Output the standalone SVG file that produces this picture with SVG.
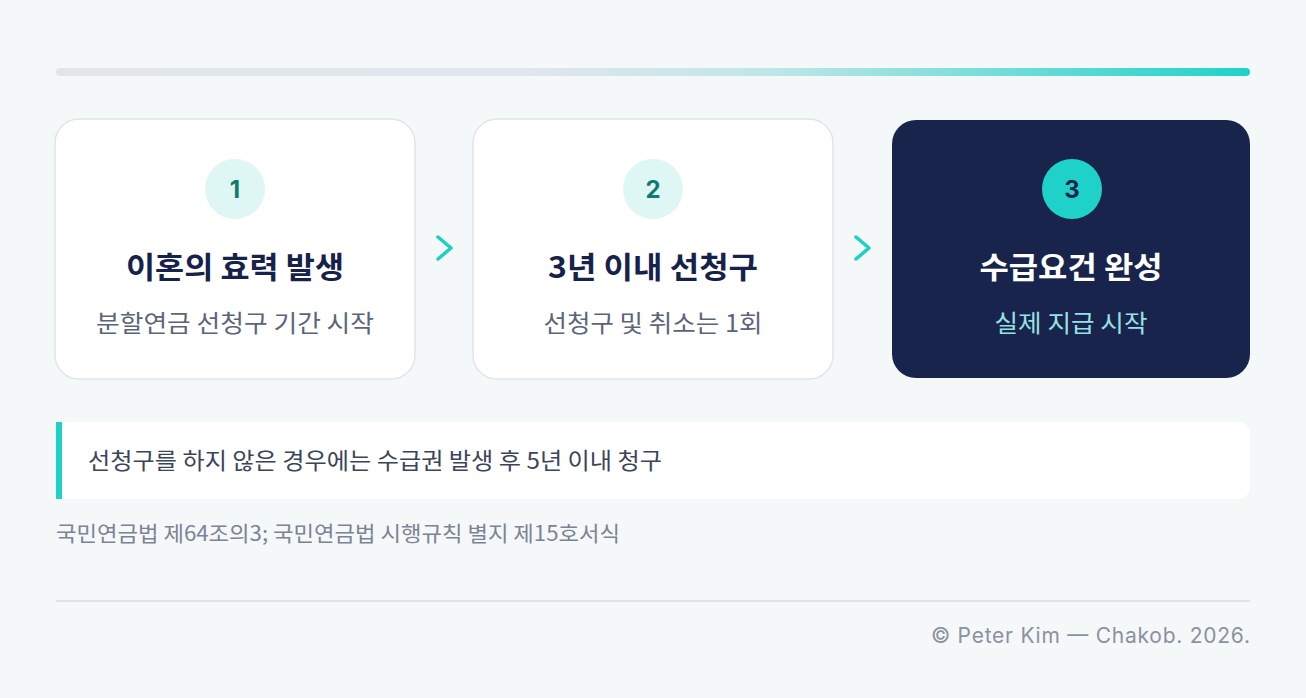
<svg xmlns="http://www.w3.org/2000/svg" width="1306" height="698" viewBox="0 0 1306 698">
<defs>
<linearGradient id="bar" x1="56" y1="0" x2="1250" y2="0" gradientUnits="userSpaceOnUse">
<stop offset="0" stop-color="#e2e6eb"/>
<stop offset="0.4" stop-color="#e0e6eb"/>
<stop offset="0.6" stop-color="#bfe6e8"/>
<stop offset="1" stop-color="#1fd2c9"/>
</linearGradient>
<style>
.card{fill:#ffffff;stroke:#e1e5ea;stroke-width:1.5}
.dark{fill:#19244c}
.num{font-family:Inter,"Noto Sans",sans-serif;font-weight:700;font-size:24px;text-anchor:middle}
.title{font-family:"Noto Sans CJK KR",sans-serif;font-weight:700;font-size:30px;text-anchor:middle;fill:#17224a}
.sub{font-family:"Noto Sans CJK KR",sans-serif;font-size:24px;text-anchor:middle;fill:#5b6579}
.chev{fill:none;stroke:#1fcfc6;stroke-width:3.5;stroke-linecap:round;stroke-linejoin:round}
</style>
</defs>
<rect width="1306" height="698" fill="#f4f8f9"/>
<rect x="56" y="68" width="1194" height="8" rx="4" fill="url(#bar)"/>
<g id="node1">
<rect class="card" x="55" y="119" width="360" height="260" rx="24"/>
<circle cx="235" cy="189" r="30" fill="#def6f4"/>
<text class="num" x="235" y="198" fill="#0e7a70">1</text>
<text class="title" x="235" y="278" textLength="218" lengthAdjust="spacingAndGlyphs">이혼의 효력 발생</text>
<text class="sub" x="235" y="332" textLength="278" lengthAdjust="spacingAndGlyphs">분할연금 선청구 기간 시작</text>
</g>
<g id="node2">
<rect class="card" x="473" y="119" width="360" height="260" rx="24"/>
<circle cx="653" cy="189" r="30" fill="#def6f4"/>
<text class="num" x="653" y="198" fill="#0e7a70">2</text>
<text class="title" x="653" y="278" textLength="210" lengthAdjust="spacingAndGlyphs">3년 이내 선청구</text>
<text class="sub" x="653" y="332" textLength="219" lengthAdjust="spacingAndGlyphs">선청구 및 취소는 1회</text>
</g>
<g id="node3">
<rect class="dark" x="892" y="120" width="358" height="258" rx="24"/>
<circle cx="1072" cy="189" r="30" fill="#1fd2c9"/>
<text class="num" x="1072" y="198" fill="#17224a">3</text>
<text class="title" x="1071" y="278" style="fill:#ffffff" textLength="183" lengthAdjust="spacingAndGlyphs">수급요건 완성</text>
<text class="sub" x="1071" y="332" style="fill:#96e2e3" textLength="153" lengthAdjust="spacingAndGlyphs">실제 지급 시작</text>
</g>
<g id="connectors">
<path class="chev" d="M438,237 L451,248 L438,259"/>
<path class="chev" d="M856,237 L869,248 L856,259"/>
</g>
<g id="note">
<path d="M56,422 H1238 A12,12 0 0 1 1250,434 V487 A12,12 0 0 1 1238,499 H56 Z" fill="#ffffff"/>
<rect x="56" y="422" width="6" height="77" fill="#1fd2c9"/>
<text x="88" y="469" font-family="'Noto Sans CJK KR',sans-serif" font-size="23" fill="#3b4559" textLength="574" lengthAdjust="spacingAndGlyphs">선청구를 하지 않은 경우에는 수급권 발생 후 5년 이내 청구</text>
</g>
<text x="56" y="541" font-family="'Noto Sans CJK KR',sans-serif" font-size="21" fill="#7b8395" textLength="564" lengthAdjust="spacingAndGlyphs">국민연금법 제64조의3; 국민연금법 시행규칙 별지 제15호서식</text>
<rect x="56" y="600" width="1194" height="2" fill="#dfe3e8"/>
<text x="931" y="643" font-family="Inter,'Noto Sans',sans-serif" font-size="21" fill="#8b91a1" textLength="319" lengthAdjust="spacing">© Peter Kim — Chakob. 2026.</text>
</svg>
